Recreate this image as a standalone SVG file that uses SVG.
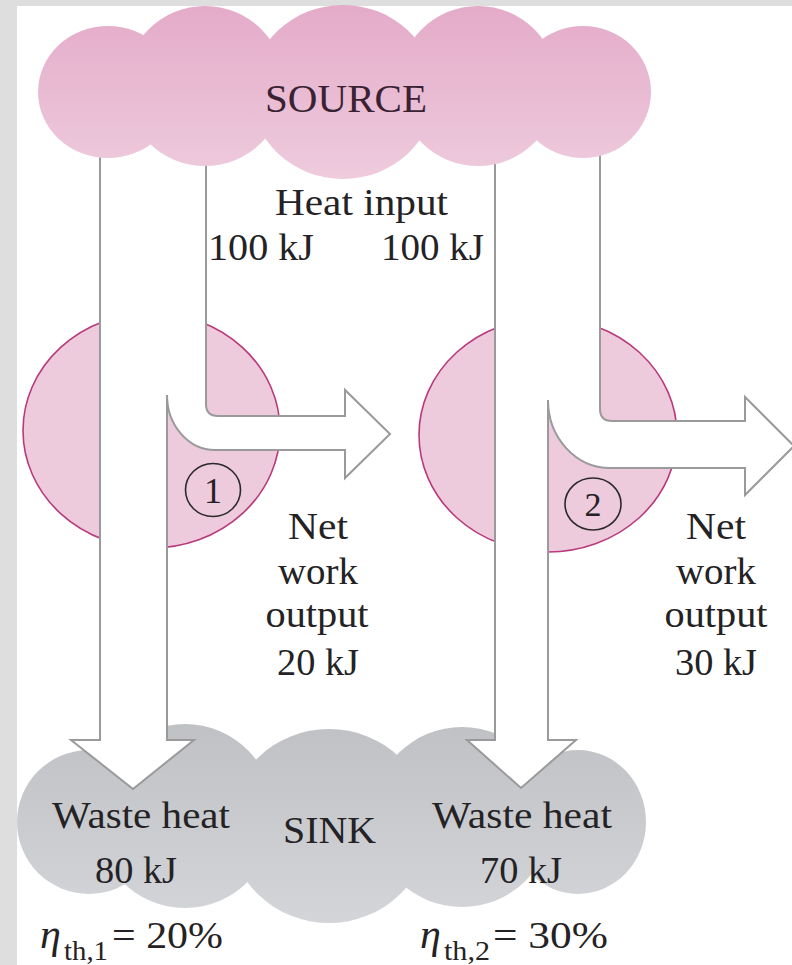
<svg xmlns="http://www.w3.org/2000/svg" width="792" height="965" viewBox="0 0 792 965">
<defs>
<linearGradient id="pinkGrad" gradientUnits="userSpaceOnUse" x1="0" y1="5" x2="0" y2="178">
<stop offset="0" stop-color="#e4abc9"/>
<stop offset="1" stop-color="#eecbdd"/>
</linearGradient>
<linearGradient id="grayGrad" gradientUnits="userSpaceOnUse" x1="0" y1="723" x2="0" y2="923">
<stop offset="0" stop-color="#bfc1c4"/>
<stop offset="1" stop-color="#d3d5d8"/>
</linearGradient>
<style>
.t{font-family:"Liberation Serif","Times New Roman",serif;fill:#242224;font-size:37px;}
.src{font-family:"Liberation Serif","Times New Roman",serif;fill:#3a2233;font-size:40px;}
.arrow{fill:#ffffff;stroke:#9a9a9a;stroke-width:2;stroke-linejoin:miter;}
.engine{fill:#edcadc;stroke:#b83a7c;stroke-width:1.6;}
.badge{fill:none;stroke:#2a2a2a;stroke-width:1.6;}
.pink{fill:url(#pinkGrad);}
.gray{fill:url(#grayGrad);}
</style>
</defs>
<g id="background">
<rect x="0" y="0" width="792" height="965" fill="#dedede"/>
<rect x="17" y="6" width="775" height="959" fill="#ffffff"/>
</g>
<g id="sink">
<ellipse class="gray" cx="89" cy="822" rx="72" ry="72"/>
<ellipse class="gray" cx="185" cy="816" rx="90" ry="92"/>
<ellipse class="gray" cx="329" cy="826" rx="100" ry="97"/>
<ellipse class="gray" cx="462" cy="817" rx="90" ry="90"/>
<ellipse class="gray" cx="578" cy="822" rx="68" ry="72"/>
</g>
<g id="engine1">
<ellipse class="engine" cx="151.5" cy="430.5" rx="128.5" ry="117.5"/>
</g>
<g id="engine2">
<ellipse class="engine" cx="548" cy="435" rx="129" ry="117"/>
</g>
<g id="connectors">
<path class="arrow" d="M100,140 L100,740 L71,740 L133,789 L194,740 L167,740 L167,395 A48,55 0 0 0 215,450 L345,450 L345,478 L390,434 L345,390 L345,416 L218,416 Q206,416 206,404 L206,140"/>
<path class="arrow" d="M495,140 L495,740 L467,740 L521,788 L576,740 L548,740 L548,400 A62,68 0 0 0 610,468 L745,468 L745,495 L794,446 L745,397 L745,421 L612,421 Q600,421 600,409 L600,140"/>
</g>
<g id="source">
<ellipse class="pink" cx="108" cy="92" rx="70" ry="66"/>
<ellipse class="pink" cx="205" cy="86" rx="80" ry="80"/>
<ellipse class="pink" cx="343" cy="92" rx="92" ry="87"/>
<ellipse class="pink" cx="478" cy="86" rx="80" ry="80"/>
<ellipse class="pink" cx="583" cy="92" rx="68" ry="66"/>
<text class="src" x="346" y="112" text-anchor="middle" textLength="162" lengthAdjust="spacingAndGlyphs">SOURCE</text>
</g>
<g id="badge1">
<ellipse class="badge" cx="213" cy="490" rx="27.5" ry="26.5"/>
<text class="t" x="213" y="503" text-anchor="middle" style="font-size:36px">1</text>
</g>
<g id="badge2">
<ellipse class="badge" cx="593" cy="504" rx="28" ry="26"/>
<text class="t" x="593" y="516" text-anchor="middle" style="font-size:34px">2</text>
</g>
<g id="labels">
<text class="t" x="361.5" y="215" text-anchor="middle" textLength="173" lengthAdjust="spacingAndGlyphs">Heat input</text>
<text class="t" x="208" y="260" textLength="106" lengthAdjust="spacingAndGlyphs">100 kJ</text>
<text class="t" x="381" y="260" textLength="103" lengthAdjust="spacingAndGlyphs">100 kJ</text>
<text class="t" x="318" y="539" text-anchor="middle" textLength="60" lengthAdjust="spacingAndGlyphs">Net</text>
<text class="t" x="318" y="584" text-anchor="middle" textLength="80" lengthAdjust="spacingAndGlyphs">work</text>
<text class="t" x="317" y="627" text-anchor="middle" textLength="103" lengthAdjust="spacingAndGlyphs">output</text>
<text class="t" x="318" y="675" text-anchor="middle" textLength="82" lengthAdjust="spacingAndGlyphs">20 kJ</text>
<text class="t" x="716" y="539" text-anchor="middle" textLength="60" lengthAdjust="spacingAndGlyphs">Net</text>
<text class="t" x="716" y="584" text-anchor="middle" textLength="80" lengthAdjust="spacingAndGlyphs">work</text>
<text class="t" x="716" y="627" text-anchor="middle" textLength="103" lengthAdjust="spacingAndGlyphs">output</text>
<text class="t" x="716" y="675" text-anchor="middle" textLength="82" lengthAdjust="spacingAndGlyphs">30 kJ</text>
<text class="t" x="141" y="828" text-anchor="middle" textLength="178" lengthAdjust="spacingAndGlyphs">Waste heat</text>
<text class="t" x="136" y="883" text-anchor="middle" textLength="82" lengthAdjust="spacingAndGlyphs">80 kJ</text>
<text class="t" x="329.5" y="843" text-anchor="middle" textLength="93" lengthAdjust="spacingAndGlyphs">SINK</text>
<text class="t" x="522" y="828" text-anchor="middle" textLength="180" lengthAdjust="spacingAndGlyphs">Waste heat</text>
<text class="t" x="521" y="883" text-anchor="middle" textLength="82" lengthAdjust="spacingAndGlyphs">70 kJ</text>
<text class="t"><tspan x="40" y="948" style="font-style:italic;font-size:42px">η</tspan><tspan x="64" y="960" style="font-size:28px" textLength="44" lengthAdjust="spacingAndGlyphs">th,1</tspan><tspan x="112" y="948" textLength="111" lengthAdjust="spacingAndGlyphs">= 20%</tspan></text>
<text class="t"><tspan x="420" y="948" style="font-style:italic;font-size:42px">η</tspan><tspan x="444" y="960" style="font-size:28px" textLength="46" lengthAdjust="spacingAndGlyphs">th,2</tspan><tspan x="493" y="948" textLength="115" lengthAdjust="spacingAndGlyphs">= 30%</tspan></text>
</g>
</svg>
